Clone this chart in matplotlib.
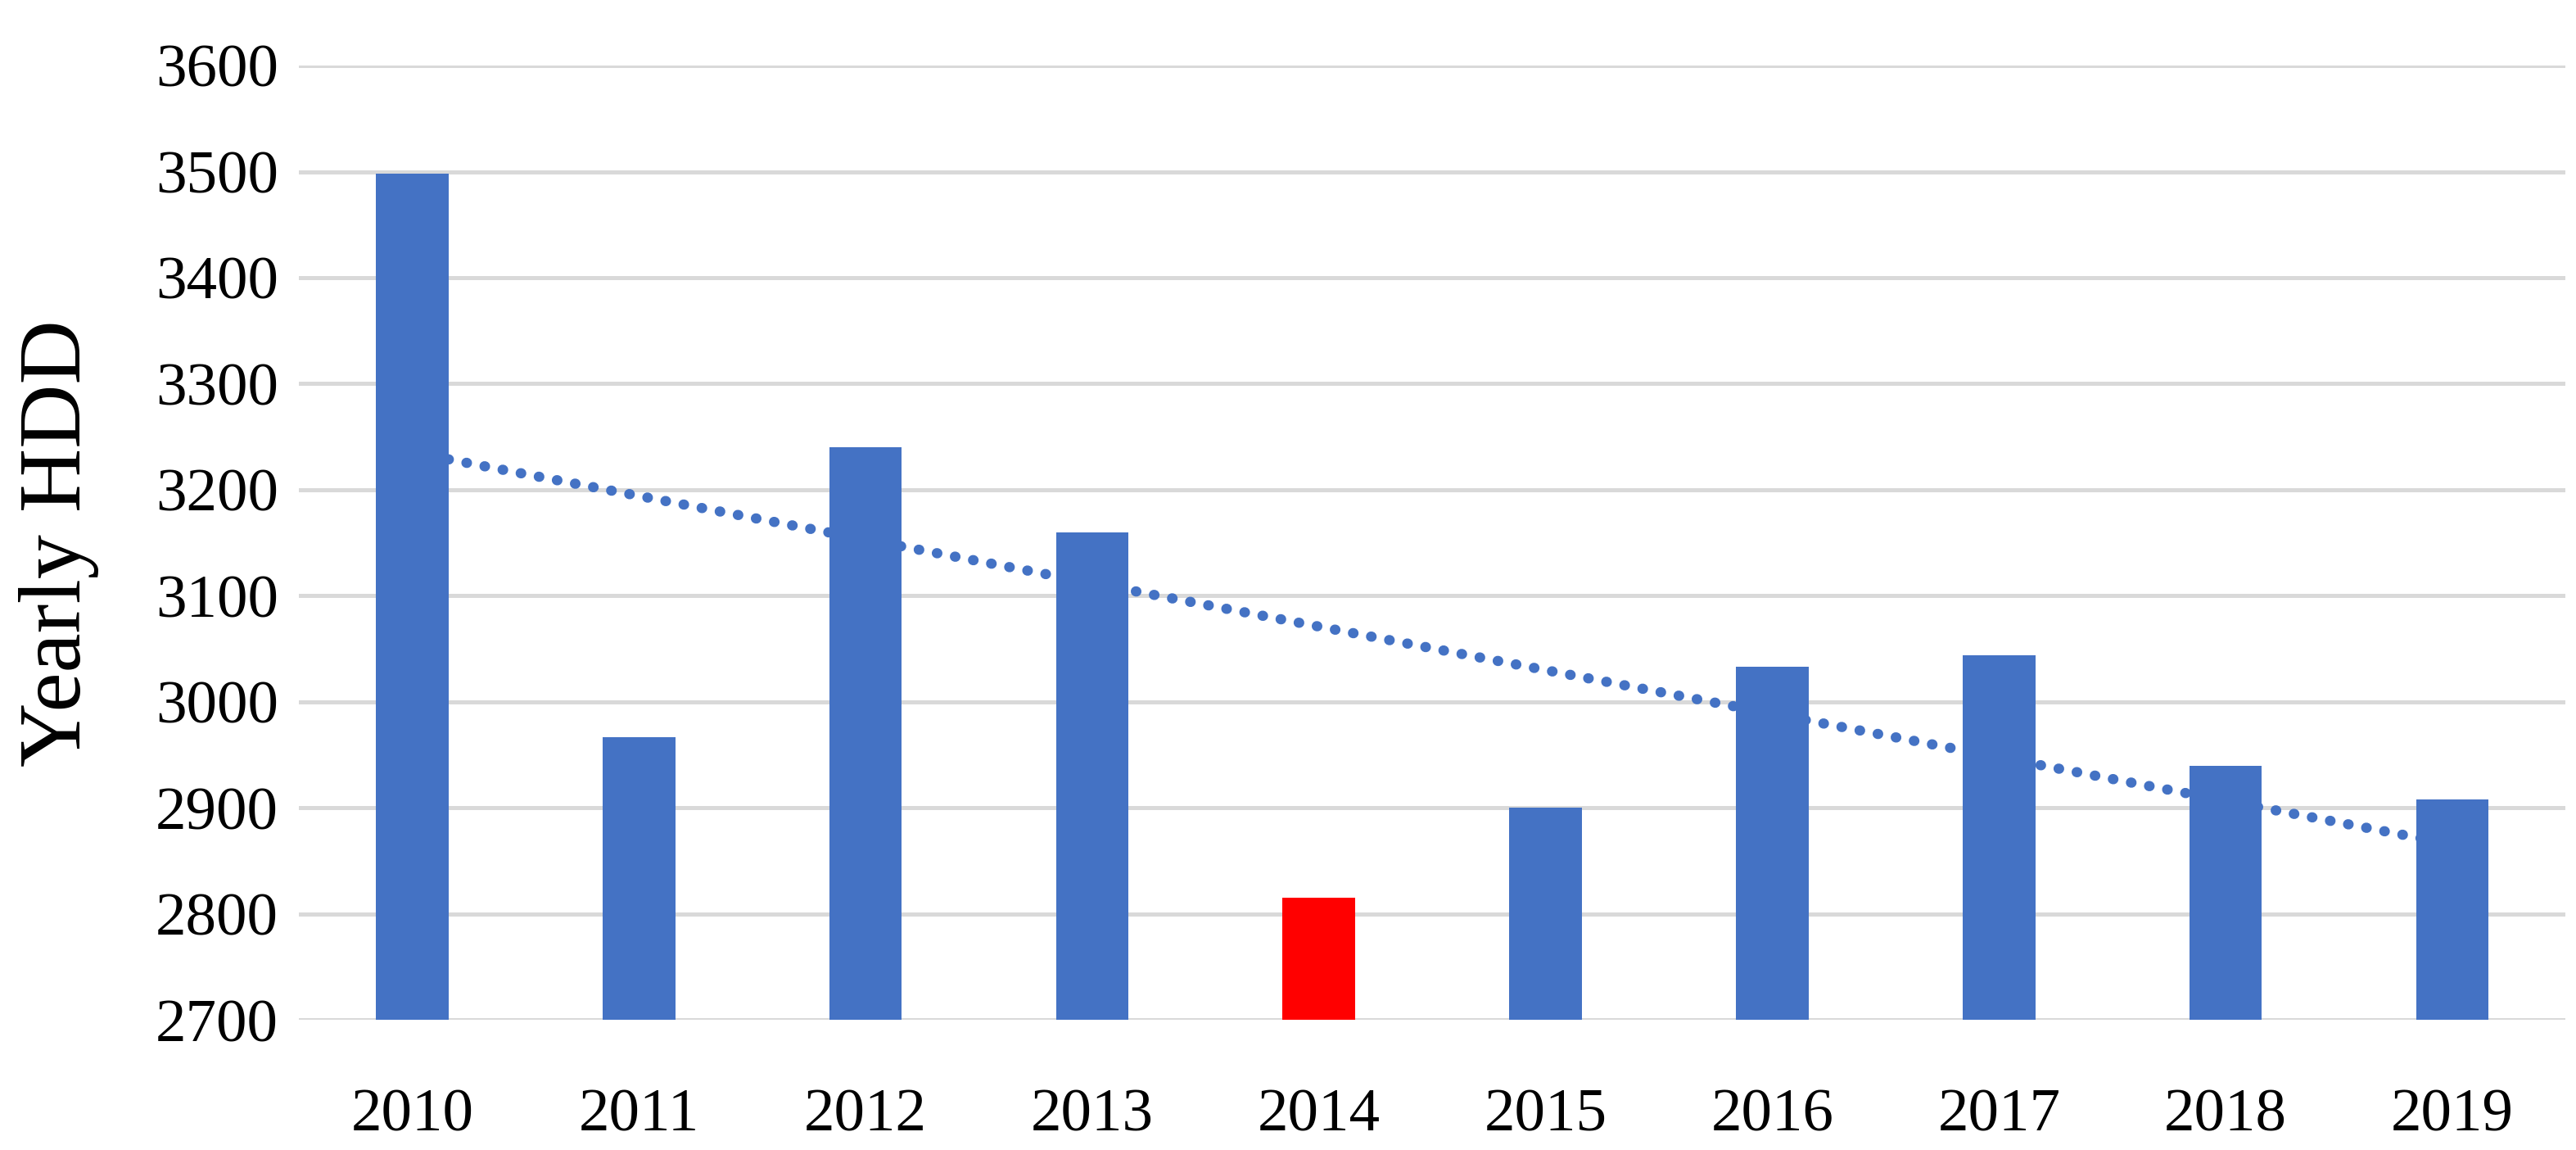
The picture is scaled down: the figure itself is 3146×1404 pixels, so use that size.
import numpy as np
import matplotlib
matplotlib.use("Agg")
import matplotlib.pyplot as plt

plt.rcParams['font.family'] = ['Liberation Serif', 'DejaVu Serif']

# Yearly heating degree days
years = ['2010', '2011', '2012', '2013', '2014', '2015', '2016', '2017', '2018', '2019']
hdd = [3498, 2967, 3240, 3160, 2815, 2900, 3033, 3044, 2940, 2908]
highlight = '2014'

blue = '#4472C4'
red = '#FF0000'
grid_col = '#D9D9D9'

x = np.arange(len(years))
colors = [red if y == highlight else blue for y in years]

fig = plt.figure(figsize=(15.73, 7.02), dpi=200)
ax = fig.add_axes([0.116, 0.113, 0.88, 0.830])

# linear trend of the data
coef = np.polyfit(x, hdd, 1)
ax.plot(x, np.polyval(coef, x), color=blue, lw=4.5,
        linestyle=(0, (0.05, 1.75)), dash_capstyle='round', zorder=2)

ax.bar(x, np.array(hdd) - 2700, bottom=2700, width=0.32, color=colors, zorder=3)

ax.set_xlim(-0.5, len(years) - 0.5)
ax.set_ylim(2700, 3600)
ax.set_yticks(np.arange(2700, 3601, 100))
ax.set_xticks(x)
ax.set_xticklabels(years)

ax.yaxis.grid(True, color=grid_col, lw=1.8, zorder=0)
ax.set_axisbelow(True)
for s in ax.spines.values():
    s.set_visible(False)
ax.tick_params(axis='both', length=0, labelsize=27)
ax.tick_params(axis='x', pad=30)
ax.tick_params(axis='y', pad=9)

ax.set_ylabel('Yearly HDD', fontsize=39)
ax.yaxis.set_label_coords(-0.088, 0.5)

fig.savefig('out.png', dpi=200)
